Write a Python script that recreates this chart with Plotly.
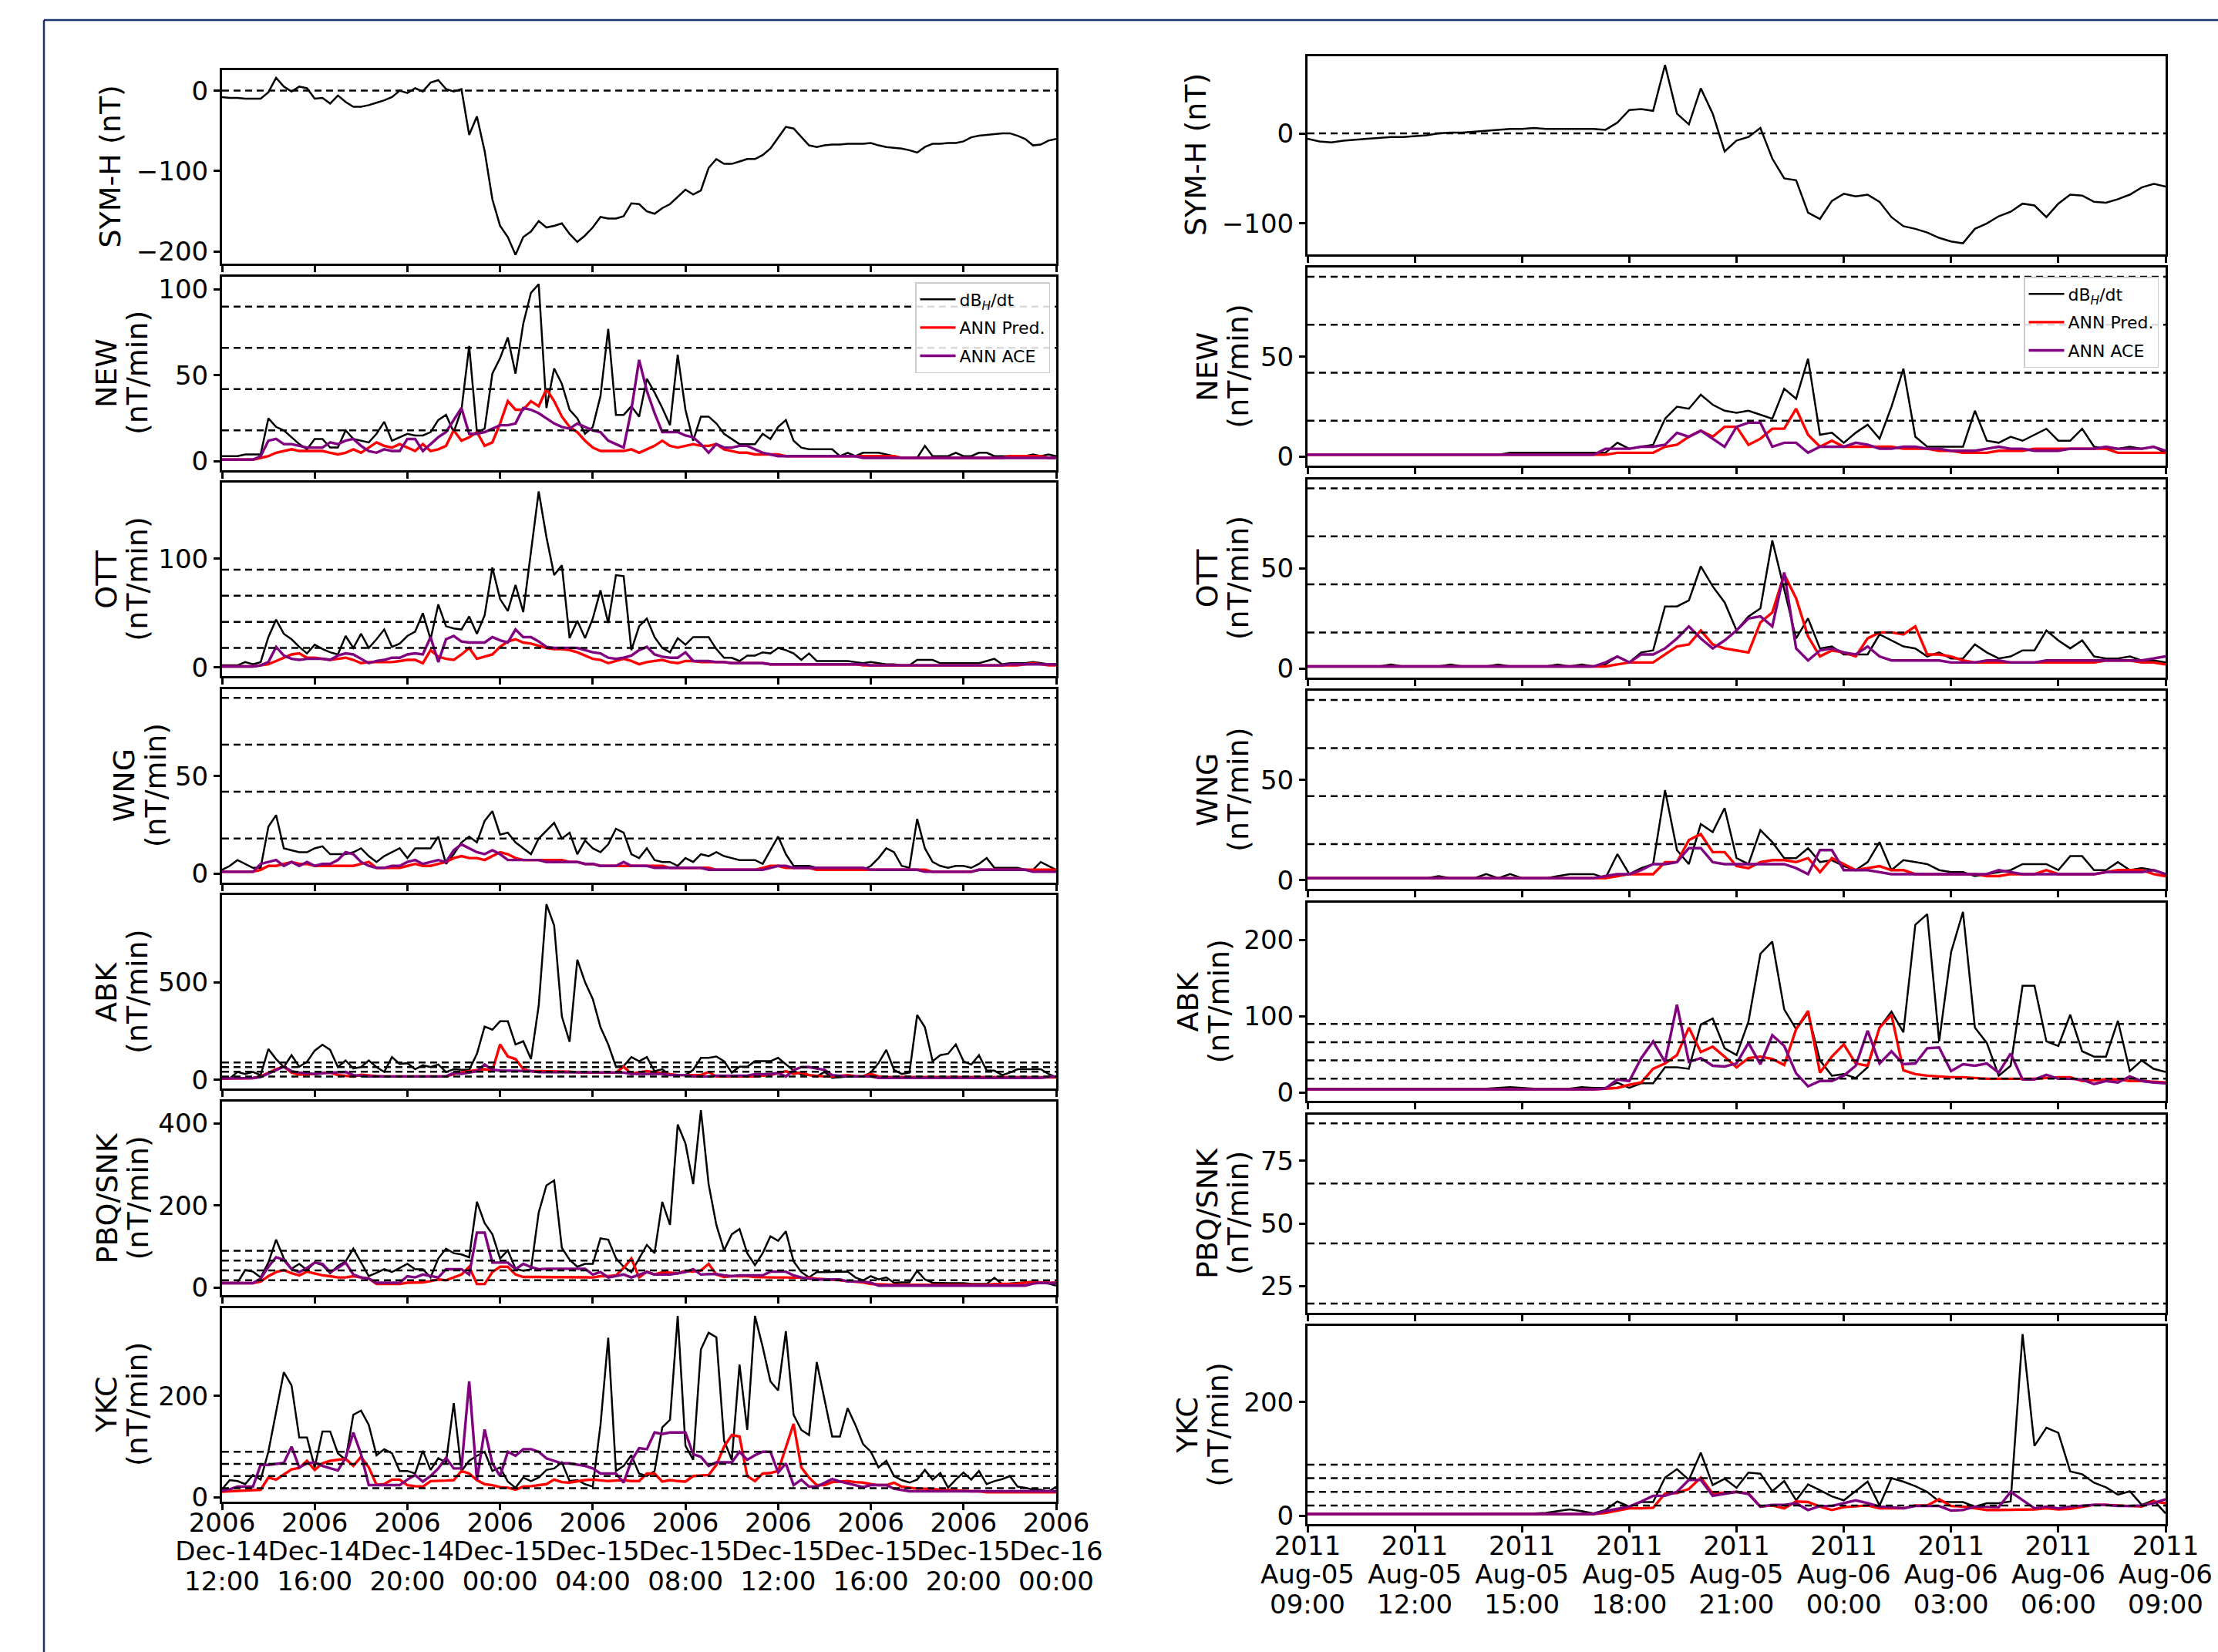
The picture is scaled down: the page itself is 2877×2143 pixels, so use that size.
import pandas as pd
import plotly.graph_objects as go

# ------------------------------------------------------------------ data
L_TIMES = pd.date_range("2006-12-14 12:00", "2006-12-16 00:00", freq="20min")   # 109 samples
R_TIMES = pd.date_range("2011-08-05 09:00", "2011-08-06 09:00", freq="20min")   # 73 samples

L_TICKS = ["2006-12-14 12:00", "2006-12-14 16:00", "2006-12-14 20:00", "2006-12-15 00:00",
           "2006-12-15 04:00", "2006-12-15 08:00", "2006-12-15 12:00", "2006-12-15 16:00",
           "2006-12-15 20:00", "2006-12-16 00:00"]
L_TICK_YEAR = ["2006"] * 10
L_TICK_DAY = ["Dec-14", "Dec-14", "Dec-14", "Dec-15", "Dec-15", "Dec-15", "Dec-15", "Dec-15",
              "Dec-15", "Dec-16"]
L_TICK_TIME = ["12:00", "16:00", "20:00", "00:00", "04:00", "08:00", "12:00", "16:00", "20:00",
               "00:00"]
R_TICKS = ["2011-08-05 09:00", "2011-08-05 12:00", "2011-08-05 15:00", "2011-08-05 18:00",
           "2011-08-05 21:00", "2011-08-06 00:00", "2011-08-06 03:00", "2011-08-06 06:00",
           "2011-08-06 09:00"]
R_TICK_YEAR = ["2011"] * 9
R_TICK_DAY = ["Aug-05", "Aug-05", "Aug-05", "Aug-05", "Aug-05", "Aug-06", "Aug-06", "Aug-06",
              "Aug-06"]
R_TICK_TIME = ["09:00", "12:00", "15:00", "18:00", "21:00", "00:00", "03:00", "06:00", "09:00"]

THRESHOLDS = [18, 42, 66, 90]
SYMH_REF = [0]
SERIES_NAMES = ["dB<sub><i>H</i></sub>/dt", "ANN Pred.", "ANN ACE"]

# ---- left event (Dec 2006)
L_SYMH = [-8, -9, -9, -10, -10, -10, -2, 16, 5, -1,
          5, 3, -10, -9, -16, -6, -14, -20, -20, -18,
          -15, -12, -8, 0, -3, 3, -1, 10, 13, 2,
          -1, 2, -55, -32, -75, -135, -168, -182, -204, -182,
          -175, -162, -170, -168, -165, -178, -188, -180, -170, -157,
          -159, -159, -156, -140, -141, -150, -153, -146, -141, -132,
          -123, -129, -124, -96, -85, -91, -91, -88, -85, -85,
          -80, -72, -58, -45, -47, -58, -68, -70, -68, -67,
          -67, -66, -66, -66, -65, -68, -70, -71, -72, -74,
          -77, -70, -66, -66, -65, -65, -63, -58, -56, -55,
          -54, -53, -53, -56, -60, -68, -67, -62, -60]

L_NEW_DB = [3, 3, 3, 4, 4, 4, 25, 20, 18, 14,
            10, 7, 13, 13, 8, 8, 18, 13, 12, 11,
            16, 23, 12, 14, 16, 15, 15, 17, 24, 27,
            17, 30, 67, 17, 19, 51, 60, 72, 51, 80,
            98, 103, 31, 54, 45, 30, 25, 16, 20, 38,
            77, 27, 27, 32, 26, 48, 40, 31, 21, 62,
            30, 12, 26, 26, 22, 16, 13, 10, 10, 10,
            16, 13, 20, 24, 12, 8, 7, 7, 7, 7,
            3, 5, 3, 5, 5, 5, 4, 3, 2, 2,
            2, 9, 3, 3, 3, 5, 3, 3, 5, 5,
            3, 3, 3, 3, 3, 4, 3, 4, 3]
L_NEW_PRED = [1, 1, 1, 1, 1, 2, 3, 5, 6, 7,
              6, 6, 6, 6, 5, 4, 5, 7, 5, 8,
              11, 9, 8, 10, 8, 6, 10, 6, 7, 9,
              18, 12, 14, 17, 9, 11, 22, 35, 30, 30,
              35, 32, 42, 35, 26, 20, 17, 12, 8, 6,
              6, 6, 6, 7, 5, 7, 9, 12, 9, 8,
              9, 10, 9, 9, 10, 7, 6, 5, 5, 4,
              4, 4, 4, 3, 3, 3, 3, 3, 3, 3,
              3, 3, 3, 3, 3, 3, 3, 3, 2, 2,
              2, 2, 2, 2, 2, 2, 2, 2, 2, 2,
              2, 2, 3, 3, 3, 3, 3, 2, 2]
L_NEW_ACE = [1, 1, 1, 1, 1, 3, 12, 13, 10, 10,
             9, 8, 8, 8, 11, 10, 12, 13, 9, 6,
             5, 7, 6, 6, 13, 13, 6, 10, 14, 17,
             24, 31, 16, 16, 17, 19, 21, 21, 22, 31,
             30, 28, 25, 22, 20, 19, 22, 20, 18, 17,
             12, 10, 8, 30, 59, 41, 28, 17, 17, 17,
             15, 14, 10, 5, 10, 8, 8, 9, 9, 7,
             5, 4, 3, 3, 3, 3, 3, 3, 3, 3,
             3, 3, 3, 2, 2, 2, 2, 2, 2, 2,
             2, 2, 2, 2, 2, 2, 2, 2, 2, 2,
             2, 2, 2, 2, 2, 2, 2, 2, 2]

L_OTT_DB = [2, 2, 2, 5, 3, 5, 28, 44, 31, 26,
            19, 13, 21, 17, 14, 12, 29, 18, 31, 18,
            26, 35, 19, 22, 29, 33, 50, 26, 58, 38,
            36, 35, 47, 31, 48, 92, 63, 52, 76, 51,
            105, 162, 120, 85, 94, 27, 43, 27, 45, 71,
            41, 85, 84, 16, 38, 45, 28, 18, 14, 27,
            21, 28, 28, 28, 17, 9, 9, 6, 11, 11,
            14, 13, 18, 16, 13, 7, 13, 6, 6, 6,
            6, 6, 5, 4, 5, 4, 3, 3, 2, 2,
            7, 7, 7, 4, 4, 4, 4, 4, 4, 6,
            8, 3, 4, 4, 4, 5, 4, 3, 2]
L_OTT_PRED = [1, 1, 1, 1, 1, 2, 3, 6, 9, 12,
              13, 9, 9, 8, 7, 8, 9, 7, 4, 5,
              5, 5, 5, 6, 7, 7, 4, 16, 10, 8,
              7, 12, 18, 8, 10, 12, 19, 24, 26, 23,
              22, 20, 18, 17, 17, 16, 14, 11, 8, 7,
              4, 6, 8, 6, 3, 5, 6, 7, 5, 4,
              6, 6, 5, 5, 5, 5, 4, 4, 4, 4,
              4, 3, 3, 3, 3, 3, 3, 3, 3, 3,
              3, 3, 3, 2, 2, 2, 2, 2, 2, 2,
              2, 2, 2, 2, 2, 2, 2, 2, 2, 2,
              2, 2, 2, 2, 3, 4, 3, 2, 2]
L_OTT_ACE = [1, 1, 1, 1, 1, 2, 5, 19, 11, 8,
             7, 8, 8, 8, 7, 11, 13, 12, 8, 4,
             6, 7, 9, 9, 12, 13, 12, 28, 5, 26,
             29, 24, 23, 23, 23, 28, 25, 23, 35, 28,
             28, 24, 19, 18, 18, 18, 18, 16, 14, 13,
             9, 8, 9, 11, 16, 19, 12, 10, 9, 9,
             14, 6, 6, 6, 5, 5, 4, 4, 4, 4,
             4, 3, 3, 3, 3, 3, 3, 3, 3, 3,
             3, 3, 3, 3, 2, 2, 2, 2, 2, 2,
             2, 2, 2, 2, 2, 2, 2, 2, 2, 2,
             2, 2, 3, 3, 3, 3, 3, 3, 3]

L_WNG_DB = [2, 4, 7, 5, 3, 3, 24, 30, 13, 12,
            11, 11, 13, 14, 10, 10, 10, 11, 13, 9,
            6, 9, 11, 13, 8, 13, 13, 13, 19, 5,
            10, 16, 19, 16, 27, 32, 20, 21, 16, 13,
            10, 18, 22, 26, 18, 21, 10, 17, 13, 11,
            15, 23, 21, 10, 8, 13, 7, 6, 6, 4,
            8, 6, 10, 9, 11, 9, 8, 7, 7, 7,
            5, 12, 19, 10, 4, 4, 4, 3, 2, 3,
            3, 2, 2, 2, 4, 8, 13, 11, 4, 3,
            28, 13, 6, 4, 3, 4, 4, 3, 5, 8,
            3, 3, 3, 3, 2, 2, 6, 4, 2]
L_WNG_PRED = [1, 1, 1, 1, 1, 2, 4, 4, 5, 6,
              5, 5, 4, 4, 4, 4, 4, 4, 5, 6,
              3, 3, 3, 3, 4, 5, 4, 4, 5, 6,
              8, 9, 8, 8, 7, 9, 11, 10, 8, 7,
              7, 7, 7, 7, 7, 6, 6, 5, 5, 4,
              4, 4, 4, 4, 4, 4, 4, 4, 3, 3,
              3, 3, 3, 3, 2, 2, 2, 2, 2, 2,
              3, 4, 4, 3, 3, 3, 3, 2, 2, 2,
              2, 2, 2, 2, 2, 2, 2, 2, 2, 2,
              2, 2, 1, 1, 1, 1, 1, 1, 2, 2,
              2, 2, 2, 2, 2, 2, 2, 2, 2]
L_WNG_ACE = [1, 1, 1, 1, 1, 5, 6, 7, 4, 6,
             4, 6, 4, 5, 5, 7, 11, 10, 6, 4,
             3, 3, 4, 4, 6, 7, 5, 6, 7, 6,
             12, 15, 13, 11, 10, 12, 10, 7, 7, 7,
             7, 7, 6, 6, 6, 6, 6, 5, 5, 4,
             4, 4, 6, 4, 4, 4, 3, 3, 3, 3,
             3, 3, 3, 2, 2, 2, 2, 2, 2, 2,
             2, 3, 4, 4, 3, 3, 3, 3, 3, 3,
             3, 3, 3, 3, 2, 2, 2, 2, 2, 2,
             2, 1, 1, 1, 1, 1, 1, 1, 2, 2,
             2, 2, 2, 2, 2, 1, 1, 1, 1]

L_ABK_DB = [8, 8, 41, 31, 41, 25, 158, 107, 66, 127,
            68, 93, 150, 180, 154, 66, 100, 59, 66, 100,
            66, 41, 117, 82, 86, 55, 75, 66, 79, 41,
            55, 52, 52, 134, 273, 257, 300, 300, 182, 198,
            107, 380, 899, 790, 325, 195, 615, 500, 414, 270,
            182, 68, 72, 117, 96, 117, 45, 55, 25, 25,
            25, 52, 113, 113, 120, 96, 38, 68, 68, 96,
            96, 96, 113, 79, 48, 27, 25, 18, 41, 11,
            15, 18, 18, 18, 38, 86, 154, 52, 31, 38,
            332, 270, 96, 127, 134, 182, 96, 79, 127, 48,
            48, 25, 38, 55, 55, 55, 55, 31, 14]
L_ABK_PRED = [8, 8, 8, 8, 10, 18, 38, 55, 68, 38,
              27, 28, 31, 35, 38, 25, 20, 18, 27, 22,
              20, 18, 18, 18, 18, 18, 18, 18, 18, 18,
              30, 40, 45, 50, 55, 48, 182, 120, 107, 55,
              45, 45, 45, 45, 45, 42, 40, 38, 38, 38,
              38, 38, 68, 31, 40, 45, 40, 36, 30, 25,
              25, 25, 25, 41, 18, 18, 18, 18, 18, 18,
              22, 25, 35, 45, 31, 38, 25, 20, 18, 18,
              20, 25, 20, 18, 31, 18, 15, 15, 14, 14,
              14, 14, 14, 14, 14, 14, 14, 14, 14, 14,
              14, 14, 14, 14, 14, 14, 14, 14, 14]
L_ABK_ACE = [8, 8, 8, 8, 10, 15, 31, 50, 68, 45,
             38, 33, 31, 35, 38, 38, 41, 25, 20, 18,
             18, 18, 18, 18, 18, 18, 18, 18, 18, 18,
             36, 31, 38, 45, 79, 52, 48, 48, 46, 45,
             45, 40, 40, 40, 40, 40, 40, 40, 38, 38,
             38, 38, 38, 31, 31, 31, 31, 31, 25, 25,
             25, 18, 18, 18, 22, 22, 22, 22, 22, 30,
             30, 30, 36, 18, 50, 66, 66, 58, 52, 25,
             20, 18, 18, 18, 18, 11, 11, 11, 11, 11,
             11, 11, 11, 11, 11, 11, 11, 11, 11, 11,
             11, 11, 11, 11, 11, 11, 11, 15, 18]

L_PBQ_DB = [12, 12, 12, 43, 39, 25, 61, 117, 71, 46,
            58, 43, 61, 55, 35, 53, 64, 95, 61, 28,
            36, 45, 38, 48, 58, 45, 45, 25, 71, 95,
            84, 81, 74, 209, 157, 130, 71, 91, 46, 41,
            45, 183, 249, 261, 97, 68, 51, 58, 58, 120,
            117, 72, 51, 38, 71, 104, 84, 209, 153, 397,
            351, 252, 432, 252, 153, 91, 130, 143, 84, 55,
            84, 125, 114, 137, 64, 38, 25, 38, 38, 38,
            38, 39, 25, 18, 28, 20, 25, 12, 13, 13,
            41, 20, 12, 11, 11, 11, 11, 9, 9, 9,
            24, 9, 10, 12, 13, 15, 13, 10, 5]
L_PBQ_PRED = [11, 11, 11, 11, 11, 15, 28, 38, 43, 35,
              30, 39, 35, 30, 28, 25, 25, 28, 25, 22,
              9, 9, 9, 9, 12, 12, 13, 16, 20, 18,
              25, 32, 51, 9, 9, 38, 51, 51, 32, 26,
              26, 26, 26, 26, 26, 26, 26, 25, 25, 28,
              28, 30, 48, 71, 25, 39, 32, 38, 36, 35,
              41, 39, 42, 58, 32, 26, 28, 28, 28, 26,
              25, 25, 25, 25, 25, 25, 24, 22, 21, 20,
              18, 16, 15, 13, 9, 8, 7, 7, 7, 7,
              7, 7, 7, 7, 7, 7, 7, 7, 7, 7,
              9, 9, 9, 10, 12, 13, 13, 12, 12]
L_PBQ_ACE = [11, 11, 11, 11, 11, 22, 51, 74, 68, 45,
             38, 48, 61, 58, 38, 48, 61, 32, 25, 22,
             12, 12, 12, 12, 28, 25, 32, 28, 25, 45,
             45, 45, 32, 134, 134, 61, 61, 61, 45, 58,
             50, 45, 46, 46, 46, 46, 46, 46, 32, 38,
             25, 28, 32, 25, 32, 38, 32, 32, 32, 35,
             38, 45, 32, 33, 33, 30, 28, 30, 30, 30,
             30, 39, 39, 39, 30, 25, 22, 20, 20, 20,
             20, 15, 15, 15, 12, 5, 5, 5, 5, 5,
             5, 5, 5, 5, 5, 5, 5, 5, 5, 5,
             5, 5, 5, 5, 5, 10, 12, 11, 11]

L_YKC_DB = [16, 34, 32, 26, 44, 35, 90, 170, 247, 221,
            118, 118, 59, 130, 130, 87, 74, 163, 171, 143,
            83, 95, 87, 52, 52, 47, 92, 54, 77, 69,
            186, 52, 72, 82, 90, 52, 59, 31, 19, 39,
            32, 39, 54, 57, 69, 32, 34, 26, 21, 143,
            315, 52, 62, 83, 47, 42, 52, 138, 153, 358,
            102, 74, 292, 325, 316, 112, 74, 262, 133, 358,
            297, 229, 211, 328, 163, 133, 123, 267, 193, 120,
            120, 176, 143, 105, 90, 59, 72, 42, 34, 29,
            35, 54, 35, 48, 19, 35, 49, 35, 52, 26,
            32, 36, 42, 21, 19, 15, 15, 11, 21]
L_YKC_PRED = [11, 12, 13, 14, 15, 15, 39, 35, 45, 55,
              58, 72, 54, 67, 72, 74, 76, 62, 80, 59,
              25, 26, 35, 35, 24, 22, 21, 32, 32, 33,
              34, 52, 47, 34, 26, 24, 20, 19, 15, 21,
              22, 24, 26, 35, 30, 29, 32, 34, 35, 34,
              32, 33, 34, 32, 32, 47, 47, 31, 34, 32,
              31, 42, 43, 44, 64, 100, 123, 120, 42, 32,
              47, 48, 52, 100, 145, 59, 39, 24, 24, 30,
              31, 32, 30, 29, 26, 24, 24, 29, 21, 19,
              17, 17, 16, 15, 15, 14, 13, 12, 12, 10,
              10, 10, 10, 10, 10, 10, 10, 10, 10]
L_YKC_ACE = [13, 16, 21, 21, 21, 64, 64, 66, 68, 100,
             59, 67, 69, 62, 57, 53, 78, 128, 85, 24,
             24, 24, 24, 24, 35, 44, 31, 42, 57, 78,
             57, 57, 229, 34, 134, 67, 42, 90, 82, 95,
             95, 90, 77, 72, 67, 67, 65, 62, 57, 47,
             47, 47, 29, 72, 97, 95, 128, 125, 128, 128,
             128, 85, 80, 62, 69, 69, 69, 90, 74, 83,
             90, 90, 49, 67, 24, 35, 21, 21, 28, 36,
             31, 28, 24, 20, 24, 24, 24, 17, 15, 12,
             12, 12, 12, 12, 12, 12, 12, 12, 12, 12,
             12, 12, 12, 12, 12, 12, 12, 12, 12]

# ---- right event (Aug 2011)
R_SYMH = [-6, -9, -10, -8, -7, -6, -5, -4, -4, -3,
          -2, 0, 1, 1, 2, 3, 4, 5, 5, 6,
          5, 5, 5, 5, 5, 4, 12, 26, 27, 25,
          76, 22, 10, 50, 22, -20, -8, -4, 6, -28,
          -50, -52, -88, -95, -75, -67, -70, -68, -76, -93,
          -103, -106, -110, -116, -120, -122, -106, -100, -92, -87,
          -78, -80, -93, -78, -68, -69, -76, -77, -73, -68,
          -60, -56, -59]

R_NEW_DB = [1, 1, 1, 1, 1, 1, 1, 1, 1, 1,
            1, 1, 1, 1, 1, 1, 1, 2, 2, 2,
            2, 2, 2, 2, 2, 2, 7, 4, 5, 6,
            19, 25, 24, 31, 26, 23, 22, 23, 21, 19,
            34, 29, 49, 11, 12, 7, 12, 16, 9, 25,
            44, 10, 5, 5, 5, 5, 23, 8, 7, 10,
            8, 11, 14, 8, 8, 14, 5, 4, 4, 5,
            4, 5, 2]
R_NEW_PRED = [1, 1, 1, 1, 1, 1, 1, 1, 1, 1,
              1, 1, 1, 1, 1, 1, 1, 1, 1, 1,
              1, 1, 1, 1, 1, 1, 2, 2, 2, 2,
              5, 6, 10, 13, 10, 15, 15, 6, 9, 14,
              14, 24, 11, 5, 8, 5, 5, 5, 5, 5,
              4, 4, 4, 3, 3, 2, 2, 2, 3, 3,
              3, 4, 4, 4, 4, 4, 4, 4, 2, 2,
              2, 2, 2]
R_NEW_ACE = [1, 1, 1, 1, 1, 1, 1, 1, 1, 1,
             1, 1, 1, 1, 1, 1, 1, 1, 1, 1,
             1, 1, 1, 1, 1, 4, 4, 4, 5, 5,
             6, 12, 10, 13, 9, 5, 15, 17, 17, 5,
             7, 7, 2, 5, 5, 5, 7, 6, 4, 4,
             5, 5, 4, 4, 3, 3, 3, 4, 5, 4,
             4, 3, 3, 3, 4, 4, 4, 5, 4, 4,
             4, 5, 3]

R_OTT_DB = [1, 1, 1, 1, 1, 1, 1, 2, 1, 1,
            1, 1, 2, 1, 1, 1, 2, 1, 1, 1,
            1, 2, 1, 2, 1, 2, 6, 3, 8, 9,
            31, 31, 34, 51, 41, 33, 19, 26, 30, 64,
            39, 15, 25, 10, 11, 7, 7, 7, 17, 14,
            11, 10, 6, 8, 5, 5, 12, 8, 5, 6,
            9, 9, 19, 14, 10, 14, 6, 5, 5, 6,
            4, 4, 3]
R_OTT_PRED = [1, 1, 1, 1, 1, 1, 1, 1, 1, 1,
              1, 1, 1, 1, 1, 1, 1, 1, 1, 1,
              1, 1, 1, 1, 1, 1, 2, 3, 3, 3,
              7, 11, 12, 19, 12, 10, 9, 8, 23, 28,
              47, 35, 16, 6, 9, 8, 6, 15, 18, 18,
              17, 21, 7, 7, 6, 4, 3, 3, 3, 3,
              3, 3, 3, 3, 3, 3, 3, 4, 4, 4,
              3, 3, 2]
R_OTT_ACE = [1, 1, 1, 1, 1, 1, 1, 1, 1, 1,
             1, 1, 1, 1, 1, 1, 1, 1, 1, 1,
             1, 1, 1, 1, 1, 3, 6, 3, 7, 7,
             10, 15, 21, 15, 10, 14, 19, 25, 26, 21,
             48, 10, 4, 9, 10, 8, 7, 11, 6, 4,
             4, 4, 4, 4, 3, 3, 3, 4, 4, 3,
             3, 3, 4, 4, 4, 4, 4, 4, 4, 4,
             4, 5, 6]

R_WNG_DB = [1, 1, 1, 1, 1, 1, 1, 1, 1, 1,
            1, 2, 1, 1, 1, 3, 1, 3, 1, 1,
            1, 2, 3, 3, 3, 1, 13, 3, 6, 8,
            45, 15, 8, 28, 24, 36, 11, 8, 25, 19,
            11, 11, 16, 9, 10, 7, 5, 9, 19, 5,
            10, 9, 8, 5, 4, 4, 2, 3, 4, 5,
            8, 8, 8, 5, 12, 12, 5, 5, 9, 5,
            6, 5, 3]
R_WNG_PRED = [1, 1, 1, 1, 1, 1, 1, 1, 1, 1,
              1, 1, 1, 1, 1, 1, 1, 1, 1, 1,
              1, 1, 1, 1, 1, 1, 2, 3, 3, 3,
              9, 9, 20, 23, 14, 14, 7, 6, 9, 10,
              10, 9, 11, 4, 11, 8, 5, 6, 7, 5,
              5, 3, 3, 3, 3, 3, 3, 2, 2, 3,
              3, 3, 5, 3, 3, 3, 3, 4, 5, 5,
              5, 3, 2]
R_WNG_ACE = [1, 1, 1, 1, 1, 1, 1, 1, 1, 1,
             1, 1, 1, 1, 1, 1, 1, 1, 1, 1,
             1, 1, 1, 1, 1, 2, 3, 3, 5, 8,
             8, 9, 16, 16, 9, 8, 8, 8, 8, 8,
             8, 6, 3, 15, 15, 5, 5, 5, 4, 3,
             3, 3, 3, 3, 3, 3, 3, 3, 5, 4,
             3, 3, 3, 3, 3, 3, 3, 4, 4, 4,
             4, 5, 3]

R_ABK_DB = [5, 5, 5, 5, 5, 5, 5, 5, 5, 5,
            5, 5, 5, 5, 5, 5, 6, 7, 6, 5,
            5, 5, 5, 7, 6, 6, 13, 6, 12, 12,
            33, 33, 31, 89, 97, 58, 49, 93, 182, 198,
            109, 83, 104, 42, 22, 24, 19, 33, 85, 106,
            79, 220, 234, 67, 184, 237, 85, 65, 22, 35,
            140, 140, 67, 61, 102, 54, 47, 47, 94, 28,
            42, 31, 27]
R_ABK_PRED = [4, 4, 4, 4, 4, 4, 4, 4, 4, 4,
              4, 4, 4, 4, 4, 4, 4, 4, 4, 4,
              4, 4, 4, 4, 4, 5, 6, 10, 13, 31,
              38, 49, 85, 53, 60, 47, 33, 45, 47, 44,
              36, 83, 107, 26, 47, 63, 38, 35, 85, 102,
              29, 24, 22, 21, 20, 20, 19, 18, 18, 18,
              18, 18, 19, 20, 20, 15, 16, 17, 17, 15,
              15, 14, 13]
R_ABK_ACE = [4, 4, 4, 4, 4, 4, 4, 4, 4, 4,
             4, 4, 4, 4, 4, 4, 4, 4, 4, 4,
             4, 4, 4, 4, 4, 5, 17, 15, 45, 67,
             40, 115, 40, 45, 35, 34, 38, 65, 37, 75,
             61, 25, 8, 15, 15, 22, 35, 81, 38, 54,
             37, 38, 58, 59, 28, 37, 35, 38, 26, 51,
             17, 17, 23, 18, 18, 17, 11, 15, 13, 21,
             15, 13, 12]

R_PBQ_DB = []      # no data for PBQ/SNK during this event
R_PBQ_PRED = []
R_PBQ_ACE = []

R_YKC_DB = [3, 3, 3, 2, 2, 2, 3, 3, 3, 3,
            2, 2, 3, 3, 3, 4, 4, 3, 4, 4,
            5, 8, 11, 8, 4, 10, 25, 16, 24, 24,
            67, 82, 63, 111, 54, 65, 49, 76, 74, 43,
            61, 27, 55, 45, 34, 27, 43, 60, 18, 66,
            60, 52, 42, 25, 24, 24, 16, 22, 22, 25,
            320, 123, 155, 146, 78, 73, 58, 50, 37, 43,
            19, 27, 4]
R_YKC_PRED = [3, 3, 3, 3, 3, 3, 3, 3, 3, 3,
              3, 3, 3, 3, 3, 3, 3, 3, 3, 3,
              3, 3, 3, 3, 3, 5, 9, 13, 13, 14,
              39, 40, 47, 67, 39, 40, 42, 39, 16, 18,
              13, 25, 24, 16, 10, 15, 17, 18, 13, 13,
              13, 18, 18, 29, 17, 16, 13, 10, 10, 10,
              11, 11, 13, 11, 12, 16, 19, 19, 18, 17,
              16, 25, 22]
R_YKC_ACE = [3, 3, 3, 3, 3, 3, 3, 3, 3, 3,
             3, 3, 3, 3, 3, 3, 3, 3, 3, 3,
             3, 3, 3, 3, 3, 8, 12, 16, 25, 35,
             35, 42, 63, 63, 35, 38, 42, 38, 16, 19,
             19, 22, 10, 17, 17, 22, 27, 22, 16, 15,
             13, 17, 17, 17, 9, 10, 16, 16, 15, 42,
             27, 13, 16, 13, 16, 18, 19, 19, 17, 17,
             18, 22, 29]

# ------------------------------------------------------------------ panel definitions
LEFT = [
    (["SYM-H (nT)"], [L_SYMH], [-215, 25.5], 100, SYMH_REF),
    (["NEW", "(nT/min)"], [L_NEW_DB, L_NEW_PRED, L_NEW_ACE], [-5, 107.5], 50, THRESHOLDS),
    (["OTT", "(nT/min)"], [L_OTT_DB, L_OTT_PRED, L_OTT_ACE], [-8, 170], 100, THRESHOLDS),
    (["WNG", "(nT/min)"], [L_WNG_DB, L_WNG_PRED, L_WNG_ACE], [-4.5, 94.5], 50, THRESHOLDS),
    (["ABK", "(nT/min)"], [L_ABK_DB, L_ABK_PRED, L_ABK_ACE], [-45, 944], 500, THRESHOLDS),
    (["PBQ/SNK", "(nT/min)"], [L_PBQ_DB, L_PBQ_PRED, L_PBQ_ACE], [-18, 453], 200, THRESHOLDS),
    (["YKC", "(nT/min)"], [L_YKC_DB, L_YKC_PRED, L_YKC_ACE], [-8, 374], 200, THRESHOLDS),
]
RIGHT = [
    (["SYM-H (nT)"], [R_SYMH], [-134, 86], 100, SYMH_REF),
    (["NEW", "(nT/min)"], [R_NEW_DB, R_NEW_PRED, R_NEW_ACE], [-4.5, 94.5], 50, THRESHOLDS),
    (["OTT", "(nT/min)"], [R_OTT_DB, R_OTT_PRED, R_OTT_ACE], [-4.5, 94.5], 50, THRESHOLDS),
    (["WNG", "(nT/min)"], [R_WNG_DB, R_WNG_PRED, R_WNG_ACE], [-4.5, 94.5], 50, THRESHOLDS),
    (["ABK", "(nT/min)"], [R_ABK_DB, R_ABK_PRED, R_ABK_ACE], [-11, 249], 100, THRESHOLDS),
    (["PBQ/SNK", "(nT/min)"], [R_PBQ_DB, R_PBQ_PRED, R_PBQ_ACE], [14.4, 93.6], 25, THRESHOLDS),
    (["YKC", "(nT/min)"], [R_YKC_DB, R_YKC_PRED, R_YKC_ACE], [-15, 334], 200, THRESHOLDS),
]

# ------------------------------------------------------------------ layout geometry (pixels)
W, H = 2877, 2143
FONT = "DejaVu Sans"
COLORS = ["#000000", "#ff0000", "#800080"]
WIDTHS = [2.5, 3.4, 3.4]
LINE_GAP = 39          # spacing between the three lines of the date tick labels
BASE_STANDOFF = -12

COLS = [
    dict(panels=LEFT, times=L_TIMES, ticks=L_TICKS,
         tick_lines=[L_TICK_YEAR, L_TICK_DAY, L_TICK_TIME],
         x0=288, x1=1370, top0=91, step=267.6, height=251,
         label_x=[[143], [138, 178], [138, 178], [161, 202], [138, 178], [138, 178], [138, 178]],
         legend="legend"),
    dict(panels=RIGHT, times=R_TIMES, ticks=R_TICKS,
         tick_lines=[R_TICK_YEAR, R_TICK_DAY, R_TICK_TIME],
         x0=1696, x1=2809, top0=72.6, step=274.6, height=257,
         label_x=[[1551], [1566, 1606], [1566, 1606], [1566, 1606], [1540, 1580], [1566, 1606], [1540, 1580]],
         legend="legend2"),
]

fig = go.Figure()
layout = dict(
    width=W, height=H, margin=dict(l=0, r=0, t=0, b=0, autoexpand=False),
    paper_bgcolor="white", plot_bgcolor="white",
    font=dict(family=FONT, size=34, color="black"),
    showlegend=True,
)
shapes, annotations = [], []

n = 0
extra = 14
for col in COLS:
    for k, (labels, series, yr, dt, reflines) in enumerate(col["panels"]):
        n += 1
        sfx = "" if n == 1 else str(n)
        top = col["top0"] + k * col["step"]
        bot = top + col["height"]
        last = (k == len(col["panels"]) - 1)
        xdom = [col["x0"] / W, col["x1"] / W]
        xrange_ = [col["times"][0], col["times"][-1]]

        layout["xaxis" + sfx] = dict(
            domain=xdom, anchor="y" + sfx, type="date", range=xrange_,
            tickmode="array", tickvals=col["ticks"], ticktext=col["tick_lines"][0],
            showticklabels=last, tickangle=0, automargin=False, ticklabelstandoff=BASE_STANDOFF,
            ticks="outside", ticklen=8, tickwidth=2.5, tickcolor="black",
            showline=True, mirror=True, linecolor="black", linewidth=3,
            showgrid=False, zeroline=False, tickfont=dict(size=34),
        )
        layout["yaxis" + sfx] = dict(
            domain=[1 - bot / H, 1 - top / H], anchor="x" + sfx, automargin=False,
            range=yr, tick0=0, dtick=dt, ticks="outside", ticklen=8, tickwidth=2.5,
            tickcolor="black", showline=True, mirror=True, linecolor="black", linewidth=3,
            showgrid=False, zeroline=False, tickfont=dict(size=34),
        )

        if last:
            # second and third lines of the date tick labels on overlaid copies of the axis
            for li in (1, 2):
                extra += 1
                layout["xaxis" + str(extra)] = dict(
                    domain=xdom, anchor="y" + sfx, overlaying="x" + sfx, side="bottom",
                    type="date", range=xrange_, tickmode="array", tickvals=col["ticks"],
                    ticktext=col["tick_lines"][li], tickangle=0, automargin=False,
                    ticklabelstandoff=BASE_STANDOFF + LINE_GAP * li,
                    ticks="outside", ticklen=8, tickwidth=2.5, tickcolor="rgba(0,0,0,0)",
                    showline=False, showgrid=False, zeroline=False, tickfont=dict(size=34),
                )
                fig.add_trace(go.Scatter(x=[col["times"][0]], y=[None], mode="lines",
                                         xaxis="x" + str(extra), yaxis="y" + sfx,
                                         showlegend=False, hoverinfo="skip"))

        for v in reflines:
            shapes.append(dict(type="line", xref="x" + sfx + " domain", x0=0, x1=1,
                               yref="y" + sfx, y0=v, y1=v, layer="above",
                               line=dict(color="black", width=2.5, dash="9px,6px")))

        for j, ys in enumerate(series):
            is_legend = (k == 1)
            fig.add_trace(go.Scatter(
                x=col["times"][:len(ys)] if len(ys) else [], y=ys, mode="lines",
                xaxis="x" + sfx, yaxis="y" + sfx,
                line=dict(color=COLORS[j], width=WIDTHS[j]),
                name=SERIES_NAMES[j] if len(series) == 3 else "SYM-H",
                showlegend=is_legend, legend=col["legend"],
                legendgroup=col["legend"] + str(j),
                hoverinfo="skip",
            ))

        ymid = 1 - (top + bot) / 2 / H
        for text, lx in zip(labels, col["label_x"][k]):
            annotations.append(dict(text=text, x=lx / W, y=ymid, xref="paper", yref="paper",
                                    showarrow=False, textangle=-90, xanchor="center",
                                    yanchor="middle", font=dict(size=38, family=FONT)))

legend_style = dict(font=dict(size=22, family=FONT), bgcolor="rgba(255,255,255,0.85)",
                    bordercolor="#cccccc", borderwidth=1.5, xanchor="right", yanchor="top",
                    tracegroupgap=5, itemwidth=46)
layout["legend"] = dict(legend_style, x=1362 / W, y=1 - 366 / H)
layout["legend2"] = dict(legend_style, x=2800 / W, y=1 - 359 / H)

# outer frame of the figure panel
shapes.append(dict(type="line", xref="paper", yref="paper", x0=57 / W, x1=1, y0=1 - 26 / H, y1=1 - 26 / H,
                   line=dict(color="#1c3370", width=2.5)))
shapes.append(dict(type="line", xref="paper", yref="paper", x0=57 / W, x1=57 / W, y0=0, y1=1 - 26 / H,
                   line=dict(color="#1c3370", width=2.5)))

layout["shapes"] = shapes
layout["annotations"] = annotations
fig.update_layout(**layout)
fig.write_html("out.html")
